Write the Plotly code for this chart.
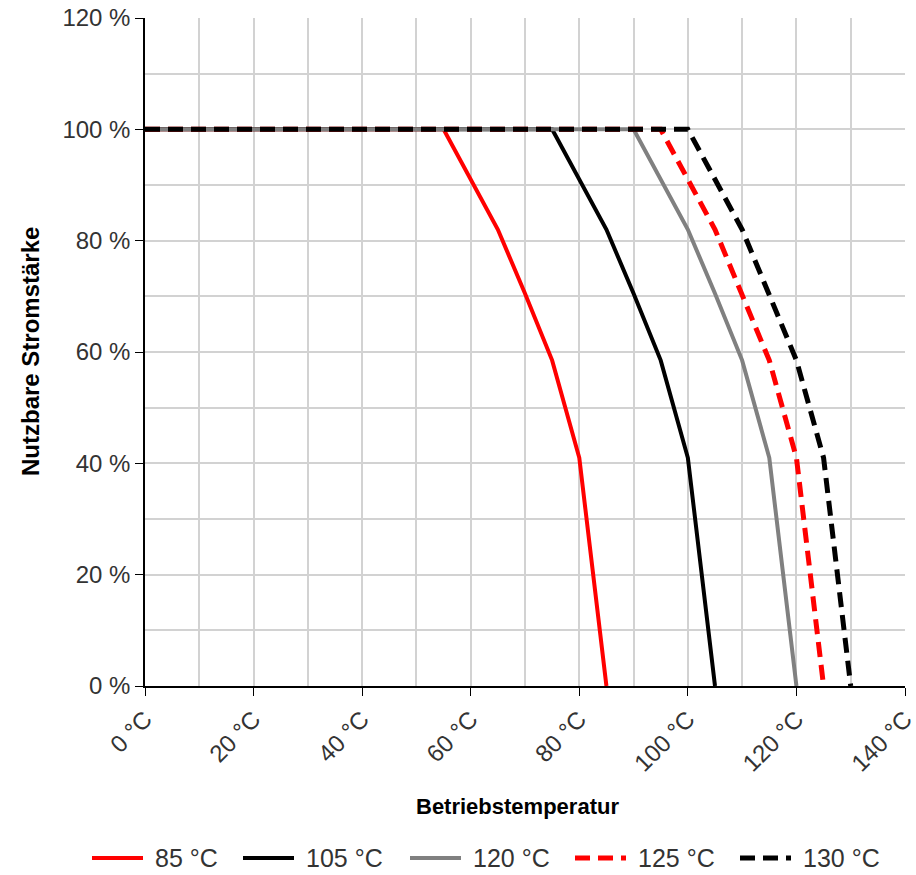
import plotly.graph_objects as go

# Derating curves: operating temperature (°C) vs. usable current (%)
temps_85 = [0, 55, 65, 70, 75, 80, 85]
temps_105 = [0, 75, 85, 90, 95, 100, 105]
temps_120 = [0, 90, 100, 105, 110, 115, 120]
temps_125 = [0, 95, 105, 110, 115, 120, 125]
temps_130 = [0, 100, 110, 115, 120, 125, 130]
current_pct = [100, 100, 82, 70.5, 58.5, 41, 0]

series_names = ["85 °C", "105 °C", "120 °C", "125 °C", "130 °C"]
series_temps = [temps_85, temps_105, temps_120, temps_125, temps_130]
series_colors = ["#ff0000", "#000000", "#808080", "#ff0000", "#000000"]
series_dash = ["solid", "solid", "solid", "15px,8px", "15px,8px"]
series_width = [4, 4, 4, 5, 5]

FONT = "Liberation Sans, Arial, sans-serif"

# plot area in pixels (left, right, top, bottom)
L, R, T, B = 145, 905, 18, 686
W, H = 916, 875


def px_x(p):
    return (p - L) / (R - L)


def px_y(p):
    return (B - p) / (B - T)


fig = go.Figure()
for name, xs, color, dash, lw in zip(series_names, series_temps, series_colors,
                                      series_dash, series_width):
    fig.add_trace(go.Scatter(
        x=xs, y=current_pct, mode="lines", name=name, showlegend=False,
        line=dict(color=color, width=lw, dash=dash),
    ))

grid_color = "#d2d2d2"
axis_common = dict(
    showline=True, linecolor="#000000", linewidth=1.5,
    ticks="outside", ticklen=8, tickcolor="#000000", tickwidth=1.2,
    showgrid=True, gridcolor=grid_color, gridwidth=1.5,
    zeroline=False, automargin=False, ticklabeloverflow="allow",
    tickfont=dict(family=FONT, size=24, color="#333333"),
)
fig.update_xaxes(
    range=[0, 140], dtick=20, tick0=0, ticksuffix=" °C", tickangle=-45,
    minor=dict(dtick=10, showgrid=True, gridcolor=grid_color, gridwidth=1.5),
    **axis_common,
)
fig.update_yaxes(
    range=[0, 120], dtick=20, tick0=0, ticksuffix=" %",
    minor=dict(dtick=10, showgrid=True, gridcolor=grid_color, gridwidth=1.5),
    **axis_common,
)

fig.add_annotation(
    text="<b>Betriebstemperatur</b>", xref="paper", yref="paper",
    x=px_x(517), y=px_y(806), showarrow=False,
    font=dict(family=FONT, size=22, color="#000000"),
    xanchor="center", yanchor="middle",
)
fig.add_annotation(
    text="<b>Nutzbare Stromstärke</b>", xref="paper", yref="paper",
    x=px_x(30), y=px_y(352), showarrow=False, textangle=-90,
    font=dict(family=FONT, size=24, color="#000000"),
    xanchor="center", yanchor="middle",
)

# legend row below the axis title
legend_starts = [92, 243, 410, 575, 740]
legend_y = 858
sample_len = 51
for name, color, dash, lw, x0 in zip(series_names, series_colors, series_dash,
                                      series_width, legend_starts):
    fig.add_shape(
        type="line", xref="paper", yref="paper",
        x0=px_x(x0), x1=px_x(x0 + sample_len), y0=px_y(legend_y), y1=px_y(legend_y),
        line=dict(color=color, width=lw, dash=dash),
    )
    fig.add_annotation(
        text=name, xref="paper", yref="paper",
        x=px_x(x0 + sample_len + 10), y=px_y(legend_y), showarrow=False,
        font=dict(family=FONT, size=25, color="#333333"),
        xanchor="left", yanchor="middle",
    )

fig.update_layout(
    width=W, height=H,
    margin=dict(l=L, r=W - R, t=T, b=H - B),
    paper_bgcolor="#ffffff", plot_bgcolor="#ffffff",
    showlegend=False,
)

fig.write_html("out.html")
